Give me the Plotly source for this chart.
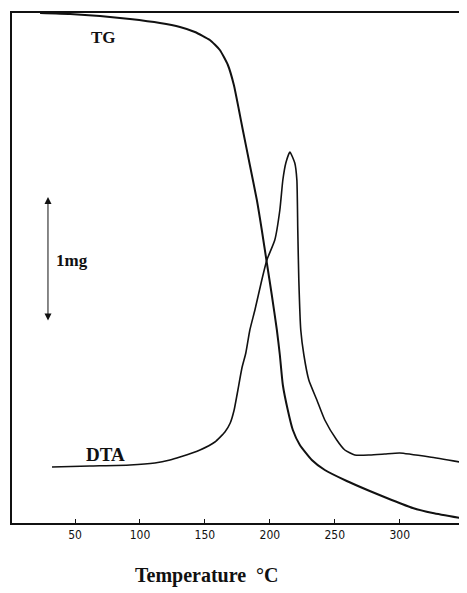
import plotly.graph_objects as go

# Temperature (deg C) and signal (arbitrary units)
tg_temp = [23.1, 46.2, 69.2, 92.3, 115.4, 130.8, 142.3, 153.8, 161.5, 167.7, 172.3, 176.2,
           179.2, 184.6, 190.0, 193.8, 197.7, 201.5, 205.4, 207.7, 210.0, 213.8, 217.7,
           223.1, 232.3, 242.3, 259.2, 276.9, 293.8, 310.0, 325.4, 350.8]
tg_val = [510, 509, 507, 504, 500, 496, 491, 483, 473, 458, 438, 413, 393, 358, 323, 293,
          260, 228, 193, 168, 138, 113, 93, 78, 63, 53, 42, 32, 23, 15, 10, 4]

dta_temp = [32.3, 61.5, 92.3, 111.5, 123.1, 130.8, 146.2, 157.7, 165.4, 169.5, 172.5, 175.4,
            178.5, 181.5, 184.6, 188.5, 193.8, 197.7, 203.8, 207.7, 210.0, 212.3, 215.4, 219.2,
            220.8, 221.5, 222.3, 223.8, 226.2, 230.0, 236.2, 242.3, 251.5, 257.7, 265.4,
            276.9, 288.5, 300.0, 323.1, 350.8]
dta_val = [56, 57, 58, 60, 63, 66, 73, 81, 91, 100, 113, 133, 155, 170, 193, 213, 243, 263,
           283, 313, 343, 360, 371, 360, 343, 293, 243, 193, 168, 143, 123, 103, 83, 73, 68,
           68, 69, 70, 66, 60]

x_ticks = [50, 100, 150, 200, 250, 300]
x_range = [1.5, 351]
y_range = [0, 510]
scale_arrow_x = 29.2
scale_arrow_y = [201, 326]

fig = go.Figure()
fig.add_trace(go.Scatter(x=tg_temp, y=tg_val, mode="lines",
                         line=dict(color="#111111", width=2, shape="spline", smoothing=0.5),
                         showlegend=False, hoverinfo="skip"))
fig.add_trace(go.Scatter(x=dta_temp, y=dta_val, mode="lines",
                         line=dict(color="#111111", width=1.6, shape="spline", smoothing=0.5),
                         showlegend=False, hoverinfo="skip"))

serif = "Liberation Serif, Times New Roman, serif"

fig.add_annotation(x=72.3, y=486, text="<b>TG</b>", showarrow=False,
                   font=dict(family=serif, size=17, color="#111111"),
                   xanchor="center", yanchor="middle")
fig.add_annotation(x=73.5, y=69, text="<b>DTA</b>", showarrow=False,
                   font=dict(family=serif, size=19, color="#111111"),
                   xanchor="center", yanchor="middle")
fig.add_annotation(x=34, y=263, text="<b>1mg</b>", showarrow=False,
                   font=dict(family=serif, size=17, color="#111111"),
                   xanchor="left", yanchor="middle")
# double-headed scale arrow
fig.add_annotation(x=scale_arrow_x, y=scale_arrow_y[1], ax=scale_arrow_x, ay=scale_arrow_y[0],
                   xref="x", yref="y", axref="x", ayref="y", text="", showarrow=True,
                   arrowhead=2, startarrowhead=2, arrowside="end+start", arrowsize=1.4,
                   arrowwidth=1, arrowcolor="#111111")
fig.add_annotation(xref="paper", yref="paper", x=0.43, y=-0.102, yanchor="middle",
                   text="<b>Temperature  °C</b>", showarrow=False,
                   font=dict(family=serif, size=20, color="#111111"))

fig.update_layout(
    width=459, height=585,
    margin=dict(l=4, r=1, t=5, b=70),
    paper_bgcolor="white", plot_bgcolor="white",
    xaxis=dict(range=x_range, tickvals=x_ticks, ticktext=[str(t) for t in x_ticks],
               ticks="inside", ticklen=4, tickcolor="#111111", showgrid=False,
               zeroline=False, showline=True, linecolor="#111111", linewidth=1.5,
               mirror=True,
               tickfont=dict(family="Liberation Sans Narrow, DejaVu Sans Condensed, Arial Narrow, sans-serif",
                             size=12, color="#111111")),
    yaxis=dict(range=y_range, showticklabels=False, ticks="", showgrid=False, zeroline=False,
               showline=True, linecolor="#111111", linewidth=1.5, mirror=False),
)
fig.add_shape(type="line", xref="paper", yref="paper", x0=1, x1=1, y0=0, y1=1,
              line=dict(color="#bbbbbb", width=1))

fig.write_html("out.html")
